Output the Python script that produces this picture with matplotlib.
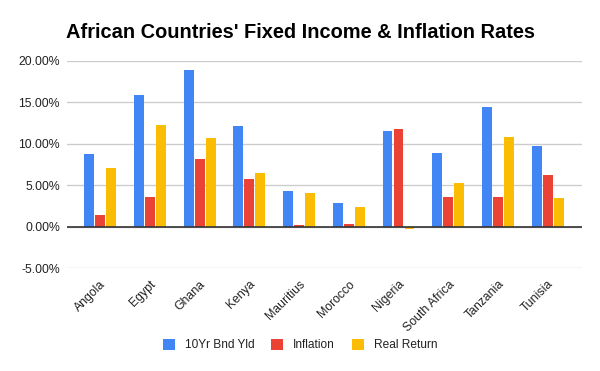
import matplotlib
matplotlib.use("Agg")
import matplotlib.pyplot as plt
import numpy as np
from matplotlib.ticker import FuncFormatter

countries = ["Angola", "Egypt", "Ghana", "Kenya", "Mauritius", "Morocco",
             "Nigeria", "South Africa", "Tanzania", "Tunisia"]
bond_yield = [8.8, 15.9, 18.9, 12.2, 4.3, 2.9, 11.6, 8.9, 14.5, 9.8]
inflation = [1.45, 3.6, 8.2, 5.8, 0.25, 0.36, 11.8, 3.6, 3.6, 6.3]
real_return = [7.1, 12.3, 10.7, 6.5, 4.1, 2.4, -0.3, 5.3, 10.8, 3.5]
series_names = ["10Yr Bnd Yld", "Inflation", "Real Return"]
colors = ["#4285F4", "#EA4335", "#FBBC04"]
yticks = [-5, 0, 5, 10, 15, 20]

plt.rcParams['font.family'] = ['Liberation Sans', 'DejaVu Sans']

fig = plt.figure(figsize=(6, 3.71), dpi=100)
ax = fig.add_axes([0.1117, 0.2763, 0.8583, 0.5593])

x = np.arange(len(countries))
w = 0.2
gap = 0.021
for i, (vals, name, c) in enumerate(zip([bond_yield, inflation, real_return], series_names, colors)):
    ax.bar(x + (i - 1) * (w + gap), vals, width=w, color=c, label=name, zorder=3)

ax.set_xlim(-0.665, 9.69)
ax.set_ylim(-5, 20)
ax.set_yticks(yticks)
ax.yaxis.set_major_formatter(FuncFormatter(lambda v, p: f"{v:.2f}%"))
ax.grid(axis='y', color='#cccccc', linewidth=1, zorder=0)
ax.axhline(0, color='#333333', linewidth=1.2, zorder=4)
for s in ax.spines.values():
    s.set_visible(False)
ax.tick_params(axis='both', length=0, labelsize=8.8, colors='#222222')
ax.tick_params(axis='y', pad=5)
ax.tick_params(axis='x', pad=7)
ax.set_xticks(x)
ax.set_xticklabels(countries, rotation=45, ha='right', rotation_mode='anchor')

fig.text(0.5, 0.912, "African Countries' Fixed Income & Inflation Rates",
         ha='center', va='center', fontsize=14.4, fontweight='bold', color='#000000')

fig.legend(loc='center', bbox_to_anchor=(0.5, 0.07), ncol=3, frameon=False,
           fontsize=8.6, handlelength=1.0, handleheight=1.0, columnspacing=1.42,
           handletextpad=0.84, labelcolor='#222222')

fig.savefig("out.png", dpi=100)
